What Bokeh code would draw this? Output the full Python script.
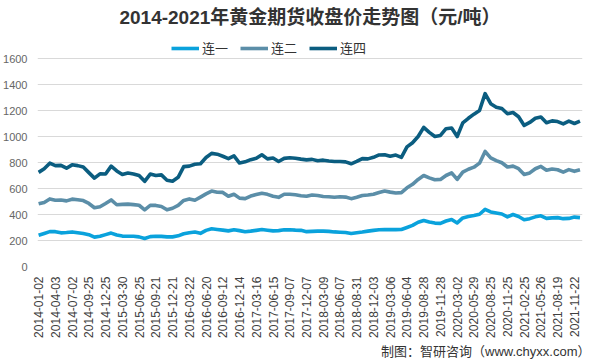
import math
from bokeh.plotting import figure
from bokeh.models import Legend, LegendItem, FixedTicker, Title, ColumnDataSource, Range1d
from bokeh.embed import file_html
from bokeh.resources import INLINE

# trading-day index (one sample every 20 trading days)
day_index = list(range(0, 1941, 20))

lian1 = [240, 254, 268, 268, 259, 262, 266, 260, 254, 245,
         226, 232, 245, 257, 242, 234, 233, 233, 228, 216,
         230, 233, 232, 228, 228, 236, 252, 260, 265, 255,
         278, 290, 285, 280, 274, 283, 276, 267, 272, 278,
         284, 279, 274, 276, 282, 283, 280, 278, 268, 270,
         272, 272, 270, 266, 264, 262, 254, 260, 265, 272,
         278, 283, 285, 284, 284, 285, 300, 316, 340, 354,
         342, 334, 332, 350, 362, 335, 374, 384, 392, 402,
         440, 420, 412, 404, 382, 400, 385, 360, 368, 382,
         390, 370, 374, 376, 368, 370, 380, 376]

lian2 = [482, 493, 520, 510, 511, 505, 518, 514, 507, 485,
         452, 460, 485, 512, 475, 478, 480, 476, 471, 436,
         470, 470, 462, 436, 448, 470, 508, 520, 510, 534,
         559, 580, 571, 570, 540, 556, 526, 522, 542, 553,
         563, 555, 540, 532, 556, 556, 552, 544, 540, 550,
         546, 539, 536, 533, 536, 534, 522, 533, 546, 550,
         556, 569, 580, 572, 565, 568, 605, 632, 670, 700,
         682, 667, 670, 700, 720, 670, 726, 748, 764, 795,
         885, 836, 815, 798, 765, 772, 752, 708, 720, 752,
         770, 740, 750, 744, 726, 745, 732, 744]

lian4 = [724, 752, 795, 776, 778, 756, 782, 776, 765, 722,
         680, 713, 712, 772, 735, 708, 719, 712, 700, 655,
         711, 700, 705, 664, 656, 686, 768, 772, 786, 790,
         838, 870, 864, 848, 830, 851, 796, 805, 822, 832,
         859, 828, 835, 808, 832, 837, 833, 826, 820, 824,
         813, 818, 812, 808, 808, 805, 790, 808, 830, 828,
         840, 858, 860, 848, 857, 840, 920, 952, 1000, 1070,
         1032, 1000, 1008, 1060, 1065, 1000, 1105, 1140, 1172, 1200,
         1330, 1252, 1225, 1215, 1175, 1185, 1152, 1085, 1108, 1140,
         1150, 1106, 1120, 1115, 1097, 1118, 1100, 1118]

date_labels = ["2014-01-02", "2014-04-03", "2014-07-02", "2014-09-25", "2014-12-25",
               "2015-03-30", "2015-06-25", "2015-09-21", "2015-12-21", "2016-03-22",
               "2016-06-20", "2016-09-12", "2016-12-14", "2017-03-16", "2017-06-15",
               "2017-09-07", "2017-12-07", "2018-03-09", "2018-06-07", "2018-08-31",
               "2018-12-03", "2019-03-06", "2019-06-04", "2019-08-28", "2019-11-28",
               "2020-03-02", "2020-05-29", "2020-08-25", "2020-11-25", "2021-02-25",
               "2021-05-26", "2021-08-19", "2021-11-22"]
label_step = 60
y_ticks = [0, 200, 400, 600, 800, 1000, 1200, 1400, 1600]

series_names = ["连一", "连二", "连四"]
series_colors = ["#0aa2dc", "#5b8ea8", "#0b5d80"]

src = ColumnDataSource(dict(x=day_index, lian1=lian1, lian2=lian2, lian4=lian4))

# y range extends above 1600 to leave room for the legend row inside the frame
p = figure(width=589, height=360, output_backend="svg", toolbar_location=None,
           x_range=Range1d(-4, 1949), y_range=Range1d(0, 1800),
           min_border_left=32, min_border_right=7, min_border_top=32, min_border_bottom=94)
p.outline_line_color = None
p.background_fill_color = "white"
p.border_fill_color = "white"

p.title.text = "2014-2021年黄金期货收盘价走势图（元/吨）"
p.title.align = "center"
p.title.text_font = "'Liberation Sans', 'Noto Sans CJK SC'"
p.title.text_font_size = "19px"
p.title.text_font_style = "bold"
p.title.text_color = "#333333"
p.title.standoff = 9

renderers = []
for col, color in zip(["lian1", "lian2", "lian4"], series_colors):
    r = p.line("x", col, source=src, line_color=color, line_width=3.6, line_join="round")
    renderers.append(r)

legend = Legend(items=[LegendItem(label=n, renderers=[r]) for n, r in zip(series_names, renderers)],
                orientation="horizontal", location=(134, 209),
                label_text_font="Noto Sans CJK SC", label_text_font_size="13px",
                label_text_color="#333333", label_height=16,
                glyph_width=28, glyph_height=10, spacing=12, label_standoff=3,
                padding=0, margin=0, border_line_color=None, background_fill_alpha=0)
p.add_layout(legend, "center")

xa = p.xaxis[0]
xa.ticker = FixedTicker(ticks=[label_step * i for i in range(len(date_labels))])
xa.major_label_overrides = {label_step * i: d for i, d in enumerate(date_labels)}
xa.major_label_orientation = math.pi / 2
xa.major_label_text_font = "Liberation Sans"
xa.major_label_text_font_size = "12px"
xa.major_label_text_color = "#404040"
xa.axis_line_color = None
xa.major_tick_line_color = None
xa.minor_tick_line_color = None
xa.major_tick_out = 0
xa.major_tick_in = 0
xa.major_label_standoff = 10

ya = p.yaxis[0]
ya.ticker = FixedTicker(ticks=y_ticks)
ya.major_label_text_font = "Liberation Sans"
ya.major_label_text_font_size = "11px"
ya.major_label_text_color = "#666666"
ya.axis_line_color = None
ya.major_tick_line_color = None
ya.minor_tick_line_color = None
ya.major_tick_out = 0
ya.major_tick_in = 0
ya.major_label_standoff = 10

p.xgrid.visible = False
p.ygrid.ticker = FixedTicker(ticks=y_ticks)
p.ygrid.grid_line_color = "#d9d9d9"
p.ygrid.grid_line_width = 1

footer = Title(text="制图：智研咨询（www.chyxx.com）", align="right",
               text_font="'Liberation Sans', 'Noto Sans CJK SC'", text_font_size="13px",
               text_font_style="normal", text_color="#333333", offset=-8, standoff=2)
p.add_layout(footer, "below")

open("out.html", "w").write(file_html(p, INLINE))
